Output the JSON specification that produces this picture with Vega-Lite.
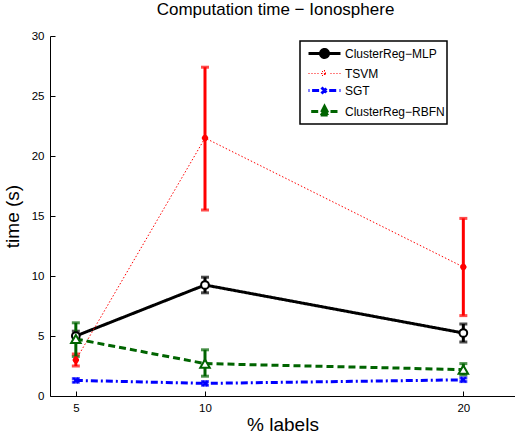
{
  "$schema": "https://vega.github.io/schema/vega-lite/v6.json",
  "width": 465,
  "height": 360,
  "autosize": "none",
  "padding": {"left": 50, "top": 36, "right": 0, "bottom": 41},
  "background": "white",
  "title": {"text": "Computation time − Ionosphere", "font": "Liberation Sans", "fontSize": 17, "fontWeight": "normal", "color": "black", "anchor": "middle", "dx": -7, "offset": 11},
  "config": {
    "view": {"stroke": null},
    "axis": {"labelFont": "Liberation Sans", "labelFontSize": 11.5, "labelColor": "black", "titleFont": "Liberation Sans", "titleFontSize": 19, "titleFontWeight": "normal", "titleColor": "black", "domainColor": "black", "tickColor": "black", "grid": false, "tickSize": -5, "labelPadding": 11}
  },
  "data": {"values": [
    {"series": "ClusterReg−MLP", "x": 5, "y": 5.0, "lo": 4.6, "hi": 5.4},
    {"series": "ClusterReg−MLP", "x": 10, "y": 9.25, "lo": 8.6, "hi": 9.9},
    {"series": "ClusterReg−MLP", "x": 20, "y": 5.25, "lo": 4.5, "hi": 6.0},
    {"series": "TSVM", "x": 5, "y": 3.0, "lo": 2.5, "hi": 3.5},
    {"series": "TSVM", "x": 10, "y": 21.5, "lo": 15.5, "hi": 27.4},
    {"series": "TSVM", "x": 20, "y": 10.75, "lo": 6.7, "hi": 14.8},
    {"series": "SGT", "x": 5, "y": 1.3, "lo": 1.15, "hi": 1.45},
    {"series": "SGT", "x": 10, "y": 1.05, "lo": 0.9, "hi": 1.2},
    {"series": "SGT", "x": 20, "y": 1.35, "lo": 1.2, "hi": 1.5},
    {"series": "ClusterReg−RBFN", "x": 5, "y": 4.75, "lo": 3.3, "hi": 6.1},
    {"series": "ClusterReg−RBFN", "x": 10, "y": 2.7, "lo": 1.65, "hi": 3.85},
    {"series": "ClusterReg−RBFN", "x": 20, "y": 2.2, "lo": 1.75, "hi": 2.7}
  ]},
  "encoding": {
    "x": {"field": "x", "type": "quantitative", "scale": {"domain": [4, 22], "nice": false, "zero": false}, "axis": {"values": [5, 10, 20], "title": "% labels", "titlePadding": 2}},
    "color": {"field": "series", "type": "nominal", "sort": null, "scale": {"domain": ["ClusterReg−MLP", "TSVM", "SGT", "ClusterReg−RBFN"], "range": ["#000000", "#ff0000", "#0000ff", "#006400"]}, "legend": null}
  },
  "layer": [
    {
      "mark": {"type": "line", "clip": true},
      "encoding": {
        "y": {"field": "y", "type": "quantitative", "scale": {"domain": [0, 30], "nice": false}, "axis": {"values": [0, 5, 10, 15, 20, 25, 30], "title": "time (s)", "titlePadding": 9}},
        "stroke": {"field": "series", "type": "nominal", "sort": null, "title": null,
          "scale": {"domain": ["ClusterReg−MLP", "TSVM", "SGT", "ClusterReg−RBFN"], "range": ["#000000", "#ff0000", "#0000ff", "#006400"]},
          "legend": {"orient": "none", "legendX": 250, "legendY": 5, "strokeColor": "black", "fillColor": "white", "padding": 2, "labelFont": "Liberation Sans", "labelFontSize": 12, "labelColor": "black", "symbolType": "stroke", "symbolSize": 324, "rowPadding": 0, "labelOffset": 22,
            "encode": {
              "legend": {"update": {"strokeWidth": {"value": 1.5}}},
              "symbols": {"update": {
                "shape": {"signal": "datum.value === 'ClusterReg−MLP' ? 'M-0.444,0H0.889M1.778,0H3.111M0.889,0A0.444,0.444 0 1,0 1.778,0A0.444,0.444 0 1,0 0.889,0' : datum.value === 'TSVM' ? 'M-0.444,0H-0.333M-0.111,0H0M0.222,0H0.333M0.555,0H0.666M2.0,0H2.111M2.333,0H2.444M2.666,0H2.777M3.0,0H3.111M0.943,0H1.723M1.333,-0.39V0.39M1.057,-0.276L1.609,0.276M1.057,0.276L1.609,-0.276' : datum.value === 'SGT' ? 'M-0.444,0H-0.333M-0.044,0H0.806M1.856,0H2.706M3.0,0H3.111M1.0,-0.333L1.666,0.333M1.0,0.333L1.666,-0.333' : 'M-0.144,0H0.656M2.0,0H2.8M1.333,-0.55L1.833,0.4L0.833,0.4Z'"}
              }}
            }}},
        "strokeDash": {"field": "series", "type": "nominal", "sort": null, "scale": {"domain": ["ClusterReg−MLP", "TSVM", "SGT", "ClusterReg−RBFN"], "range": [[1, 0], [1.5, 2], [7, 3, 2, 3], [7, 4]]}, "legend": null},
        "strokeWidth": {"field": "series", "type": "nominal", "sort": null, "title": null, "scale": {"type": "ordinal", "domain": ["ClusterReg−MLP", "TSVM", "SGT", "ClusterReg−RBFN"], "range": [3, 1, 3, 3]}}
      }
    },
    {
      "mark": {"type": "errorbar", "ticks": {"size": 8, "thickness": 3}, "thickness": 3},
      "encoding": {
        "y": {"field": "lo", "type": "quantitative", "title": "time (s)"},
        "y2": {"field": "hi"}
      }
    },
    {
      "transform": [{"filter": "datum.series === 'ClusterReg−MLP'"}],
      "mark": {"type": "point", "shape": "circle", "size": 60, "filled": false, "fill": "white", "fillOpacity": 1, "opacity": 1, "strokeWidth": 2},
      "encoding": {"y": {"field": "y", "type": "quantitative"}}
    },
    {
      "transform": [{"filter": "datum.series === 'TSVM'"}],
      "mark": {"type": "point", "shape": "M-1,0H1M0,-1V1M-0.7,-0.7L0.7,0.7M-0.7,0.7L0.7,-0.7", "size": 40, "filled": false, "opacity": 1, "strokeWidth": 2},
      "encoding": {"y": {"field": "y", "type": "quantitative"}}
    },
    {
      "transform": [{"filter": "datum.series === 'SGT'"}],
      "mark": {"type": "point", "shape": "M-0.8,-0.8L0.8,0.8M-0.8,0.8L0.8,-0.8", "size": 40, "filled": false, "opacity": 1, "strokeWidth": 2},
      "encoding": {"y": {"field": "y", "type": "quantitative"}}
    },
    {
      "transform": [{"filter": "datum.series === 'ClusterReg−RBFN'"}],
      "mark": {"type": "point", "shape": "triangle-up", "size": 90, "filled": false, "fill": "white", "fillOpacity": 1, "opacity": 1, "strokeWidth": 2},
      "encoding": {"y": {"field": "y", "type": "quantitative"}}
    }
  ]
}
